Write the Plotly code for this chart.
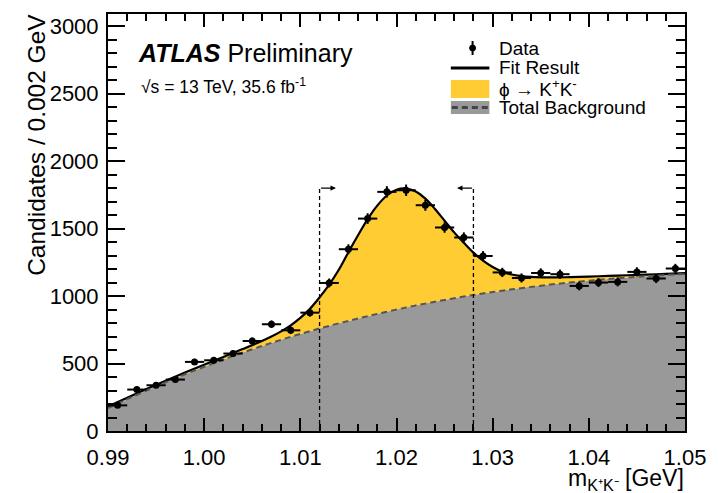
import plotly.graph_objects as go
import numpy as np

# ---------------- data ----------------
bin_centers = [0.991, 0.993, 0.995, 0.997, 0.999, 1.001, 1.003, 1.005, 1.007, 1.009,
               1.011, 1.013, 1.015, 1.017, 1.019, 1.021, 1.023, 1.025, 1.027, 1.029,
               1.031, 1.033, 1.035, 1.037, 1.039, 1.041, 1.043, 1.045, 1.047, 1.049]
counts = [190, 307, 339, 381, 512, 524, 574, 667, 791, 746,
          877, 1097, 1347, 1574, 1772, 1784, 1673, 1508, 1434, 1297,
          1175, 1134, 1171, 1162, 1075, 1100, 1105, 1179, 1130, 1204]
bin_half_width = [0.001] * len(bin_centers)

fit_x = [0.990, 0.992, 0.994, 0.996, 0.998, 1.000, 1.002, 1.004, 1.006, 1.007,
         1.008, 1.009, 1.010, 1.011, 1.012, 1.013, 1.014, 1.015, 1.016, 1.017,
         1.018, 1.019, 1.020, 1.021, 1.022, 1.023, 1.024, 1.025, 1.026, 1.027,
         1.028, 1.029, 1.030, 1.031, 1.032, 1.034, 1.036, 1.038, 1.040, 1.042,
         1.044, 1.046, 1.048, 1.050]
fit_total = [182, 247, 311, 373, 433, 491, 549, 607, 667, 700,
             738, 783, 838, 905, 990, 1085, 1195, 1325, 1450, 1570,
             1670, 1745, 1788, 1797, 1775, 1722, 1645, 1558, 1472, 1395,
             1322, 1262, 1215, 1181, 1160, 1142, 1138, 1140, 1144, 1149,
             1154, 1159, 1164, 1170]
fit_bkg = [170, 236, 300, 361, 420, 476, 530, 581, 630, 653,
           676, 698, 719, 740, 760, 779, 798, 816, 834, 851,
           868, 884, 900, 915, 930, 944, 958, 971, 984, 996,
           1008, 1019, 1030, 1040, 1050, 1068, 1085, 1100, 1114, 1126,
           1137, 1147, 1156, 1164]

region_bounds = [1.012, 1.028]
region_top = 1800
region_arrow = 0.0017

x_ticks = [0.99, 1.00, 1.01, 1.02, 1.03, 1.04, 1.05]
y_ticks = [0, 500, 1000, 1500, 2000, 2500, 3000]

YELLOW = "#FFCC33"
GREY = "#999999"
FONT = "Liberation Sans, Arial, Helvetica, sans-serif"

fig = go.Figure()
fig.add_trace(go.Scatter(x=fit_x, y=fit_bkg, mode="lines", line=dict(width=0, shape="spline"),
                         fill="tozeroy", fillcolor=GREY, hoverinfo="skip", showlegend=False))
fig.add_trace(go.Scatter(x=fit_x, y=fit_total, mode="lines",
                         line=dict(color="black", width=2.2, shape="spline"),
                         fill="tonexty", fillcolor=YELLOW, showlegend=False))
fig.add_trace(go.Scatter(x=fit_x, y=fit_bkg, mode="lines",
                         line=dict(color="#555555", width=2, dash="6px,4px", shape="spline"),
                         showlegend=False))
fig.add_trace(go.Scatter(x=bin_centers, y=counts, mode="markers",
                         marker=dict(color="black", size=7, symbol="circle"),
                         error_x=dict(type="data", array=bin_half_width, color="black", thickness=2, width=0),
                         error_y=dict(type="data", array=list(np.sqrt(counts)), color="black", thickness=2, width=0),
                         showlegend=False))

shapes = []
annotations = []
# signal region markers
for xb, direction in zip(region_bounds, [1, -1]):
    shapes.append(dict(type="line", xref="x", yref="y", x0=xb, x1=xb, y0=0, y1=region_top,
                       line=dict(color="black", width=1.3, dash="4px,3px")))
    annotations.append(dict(xref="x", yref="y", axref="x", ayref="y",
                            x=xb + direction * region_arrow, y=region_top,
                            ax=xb, ay=region_top, text="", showarrow=True,
                            arrowhead=2, arrowsize=0.9, arrowwidth=1.2, arrowcolor="black"))

def PX(p):
    return (p - 108) / 584.0

def PY(p):
    return (430.7 - p) / 416.7

# legend drawn manually
shapes.append(dict(type="line", xref="paper", yref="paper", x0=PX(477), x1=PX(477), y0=PY(41), y1=PY(55),
                   line=dict(color="black", width=2)))
shapes.append(dict(type="circle", xref="paper", yref="paper", x0=PX(474), x1=PX(480), y0=PY(45), y1=PY(51),
                   fillcolor="black", line=dict(color="black", width=1)))
shapes.append(dict(type="line", xref="paper", yref="paper", x0=PX(455), x1=PX(494), y0=PY(68), y1=PY(68),
                   line=dict(color="black", width=3)))
shapes.append(dict(type="rect", xref="paper", yref="paper", x0=PX(455), x1=PX(494), y0=PY(98), y1=PY(80),
                   fillcolor=YELLOW, line=dict(width=0)))
shapes.append(dict(type="rect", xref="paper", yref="paper", x0=PX(455), x1=PX(494), y0=PY(114), y1=PY(101),
                   fillcolor=GREY, line=dict(width=0)))
shapes.append(dict(type="line", xref="paper", yref="paper", x0=PX(456), x1=PX(494), y0=PY(107.5), y1=PY(107.5),
                   line=dict(color="#444444", width=3, dash="6px,4px")))

leg_texts = ["Data", "Fit Result", "ϕ → K<sup>+</sup>K<sup>-</sup>", "Total Background"]
leg_y = [48, 67, 88, 107]
for t, yy in zip(leg_texts, leg_y):
    annotations.append(dict(xref="paper", yref="paper", x=PX(502), y=PY(yy), xanchor="left", yanchor="middle",
                            text=t, showarrow=False, font=dict(family=FONT, size=19, color="black")))

annotations.append(dict(xref="paper", yref="paper", x=PX(136), y=PY(52.5), xanchor="left", yanchor="middle",
                        text="<b><i>ATLAS</i></b> Preliminary", showarrow=False,
                        font=dict(family=FONT, size=25, color="black")))
annotations.append(dict(xref="paper", yref="paper", x=PX(139), y=PY(86), xanchor="left", yanchor="middle",
                        text="√s = 13 TeV, 35.6 fb<sup>-1</sup>", showarrow=False,
                        font=dict(family=FONT, size=17.5, color="black")))
# axis titles
annotations.append(dict(xref="paper", yref="paper", x=PX(36), y=PY(12), xanchor="center", yanchor="top",
                        text="Candidates / 0.002 GeV", textangle=-90, showarrow=False,
                        font=dict(family=FONT, size=24.5, color="black")))
annotations.append(dict(xref="paper", yref="paper", x=PX(693), y=PY(463), xanchor="right", yanchor="top",
                        text="m<sub>K⁺K⁻</sub> [GeV]", showarrow=False,
                        font=dict(family=FONT, size=23, color="black")))

fig.update_layout(
    width=718, height=493,
    margin=dict(l=108, r=26, t=14, b=62),
    paper_bgcolor="white", plot_bgcolor="white",
    shapes=shapes, annotations=annotations,
    font=dict(family=FONT, color="black"),
    showlegend=False,
)
fig.update_xaxes(range=[0.99, 1.05], tickvals=x_ticks, ticktext=[f"{v:.2f}" for v in x_ticks],
                 ticks="inside", ticklen=13, tickwidth=1.5, tickcolor="black",
                 minor=dict(dtick=0.002, tick0=0.99, ticks="inside", ticklen=7, tickwidth=1.5, tickcolor="black"),
                 showline=True, linecolor="black", linewidth=2, mirror="allticks",
                 showgrid=False, zeroline=False, ticklabelstandoff=6,
                 tickfont=dict(family=FONT, size=22, color="black"))
fig.update_yaxes(range=[0, 3090], tickvals=y_ticks,
                 ticks="inside", ticklen=17, tickwidth=1.5, tickcolor="black",
                 minor=dict(dtick=100, tick0=0, ticks="inside", ticklen=9, tickwidth=1.5, tickcolor="black"),
                 showline=True, linecolor="black", linewidth=2, mirror="allticks",
                 showgrid=False, zeroline=False, ticklabelstandoff=3,
                 tickfont=dict(family=FONT, size=22, color="black"))

fig.write_html("out.html")
